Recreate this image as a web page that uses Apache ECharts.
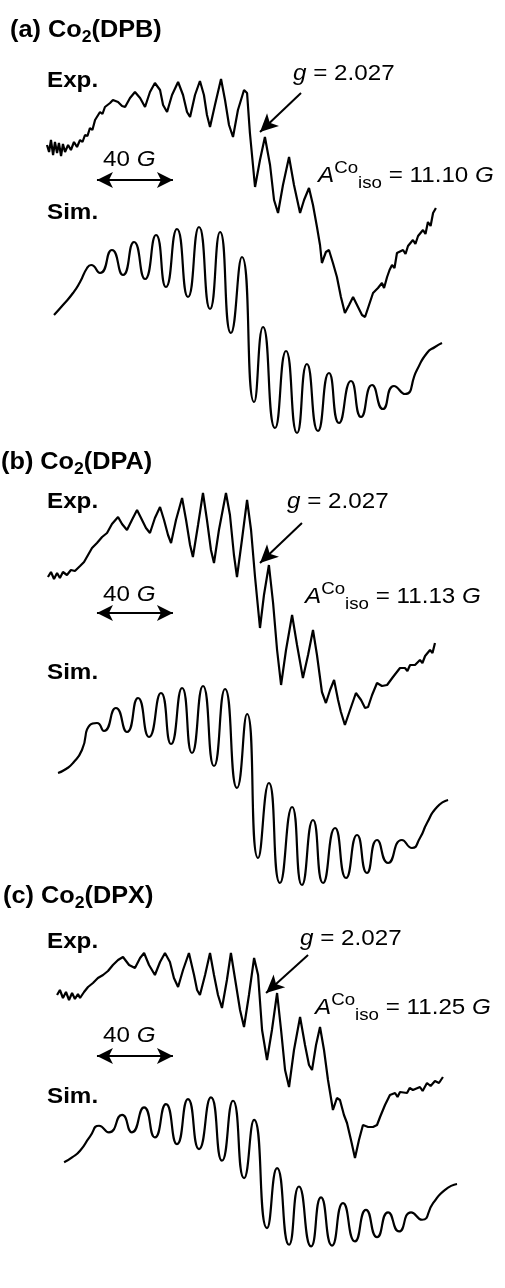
<!DOCTYPE html>
<html>
<head>
<meta charset="utf-8">
<script src="https://cdn.jsdelivr.net/npm/echarts@6/dist/echarts.min.js"></script>
<style>html,body{margin:0;background:#fff}#chart{width:505px;height:1288px}</style>
</head>
<body>
<div id="chart"></div>
<script>
"use strict"

// 数据：[磁场偏移 (G), 强度 (a.u.)]
const expA = [[2.1,27.5],[3.2,24],[4.2,30],[5.3,22.5],[6.3,29],[7.4,23.5],[8.4,28.5],[9.5,22],[10.5,28],[11.6,24],[13.2,27.5],[14.7,25],[16.3,29],[17.9,26.5],[19.5,30],[20.8,29],[22.1,32.5],[23.4,32],[24.7,36],[26,35],[27.4,40],[30,44],[31.3,43],[32.6,46.5],[35.3,48.5],[36.8,50],[39.5,49],[41.6,47],[43.2,46.5],[45.8,51],[48.4,54],[51.1,51],[53.7,46.5],[56.3,54],[58.9,58.5],[61.6,55],[63.2,47.5],[65.3,44],[67.9,52.5],[71.1,59],[73.7,52.5],[75.8,44],[77.4,41.5],[80,52.5],[82.6,59.5],[84.7,52.5],[86.3,42.5],[87.9,36.5],[90.5,47.5],[93.7,60.5],[95.8,50],[97.9,37.5],[100,31.5],[102.6,45],[105.8,55],[107.4,53.5],[108.9,33.5],[111.6,6.5],[114.2,20],[116.8,31.5],[119.5,17.5],[121.6,0],[123.7,-6.5],[126.3,7.5],[129.5,21.5],[132.1,7.5],[135.3,-6.5],[137.4,0],[140,6],[142.1,-2.5],[144.2,-13.5],[145.8,-22.5],[146.8,-31.5],[148.9,-26],[150.5,-25],[152.6,-31.5],[154.7,-38.5],[156.8,-48.5],[158.9,-56.5],[161.1,-52.5],[163.2,-48.5],[165.8,-53.5],[167.9,-57.5],[169.5,-58.5],[171.6,-52.5],[173.7,-46.5],[176.3,-44],[178.4,-41.5],[179.5,-44],[181.1,-38.5],[182.4,-35],[183.7,-32.5],[185,-34],[186.3,-26.5],[189.5,-25],[190.8,-27],[192.1,-23],[194.7,-20],[196,-22],[197.4,-18],[200,-15],[201.3,-17],[202.6,-11],[204,-13],[205.3,-6.5],[206.8,-4]];
const simA = [[5.8,7.5],[10.5,12.5],[15.8,18.5],[19.5,24],[23.2,31],[25.3,32.5],[30,28.5],[36.3,40],[42.1,27.5],[47.9,44],[53.7,25.5],[59.5,47.5],[64.7,21.5],[70.5,50.5],[76.3,16.5],[82.1,51.5],[87.9,10.5],[93.2,49],[98.9,-1.5],[104.7,36.5],[111.1,-36],[115.8,1.5],[122.1,-49],[127.9,-10.5],[133.7,-51.5],[138.9,-17],[144.7,-50.5],[150.5,-21.5],[155.8,-46.5],[162.1,-25.5],[167.4,-43.5],[173.2,-27.5],[178.9,-39.5],[184.7,-28],[190.5,-32],[196.8,-20],[202.1,-11.5],[206.3,-8.5],[210,-6.5]];

const expB = [[2.6,16.5],[4.2,19],[5.8,15.5],[7.4,18.5],[8.9,16],[10.5,19],[12.6,17.5],[14.7,20],[16.8,19.5],[19.5,22],[21.6,24],[23.7,27.5],[25.8,31],[28.4,33.5],[31.1,36.5],[33.7,38.5],[36.3,43],[39.5,46.5],[41.6,43],[44.2,40],[46.8,45],[49.5,50],[51.6,46],[54.2,41],[56.3,38.5],[58.9,46],[61.6,51.5],[63.7,45],[65.8,37.5],[67.4,33.5],[70,45],[73.2,56],[75.3,45],[77.4,32.5],[78.9,26.5],[81.6,42.5],[84.2,58.5],[86.3,45],[88.4,30],[90,23.5],[92.6,40],[96.3,58.5],[98.4,47.5],[100.5,27.5],[102.1,16.5],[104.7,35],[107.4,55],[109.5,40],[111.6,16.5],[114.2,-9],[116.3,7.5],[118.9,22.5],[121.1,3.5],[123.2,-20],[125.3,-37.5],[127.9,-20],[131.1,-2.5],[133.7,-17.5],[136.8,-34],[139.5,-22.5],[142.1,-10],[144.2,-22.5],[146.8,-41],[148.9,-46.5],[151.1,-40],[153.2,-35],[155.3,-45],[156.8,-51],[158.9,-57.5],[161.6,-50],[164.7,-41.5],[167.4,-45],[169.5,-49],[171.1,-48.5],[173.2,-42.5],[175.8,-36.5],[178.4,-38],[181.1,-37.5],[184.2,-33.5],[187.9,-29],[190.5,-29],[191.8,-30.5],[193.2,-27.5],[195.8,-27.5],[198.4,-25],[199.7,-26.5],[201.1,-23],[203.7,-20],[205,-21.5],[206.3,-16.5]];
const simB = [[7.9,6],[12.1,8],[15.8,11],[20.5,17.5],[24.7,30],[28.4,31],[32.1,27],[38.4,38.5],[44.2,26.5],[50,43.5],[55.8,24],[62.1,46],[67.4,20.5],[73.2,48.5],[78.4,16],[84.2,49.5],[90,9.5],[95.8,48],[102.1,-1.5],[107.4,35.5],[113.2,-36.5],[118.9,1],[124.7,-49],[131.1,-11],[136.3,-50],[142.1,-17.5],[147.4,-49],[153.7,-21.5],[159.5,-46.5],[165.3,-25],[170.5,-44],[175.8,-27.5],[181.6,-39],[188.9,-27.5],[194.2,-31.5],[198.4,-26.5],[202.1,-19],[207.4,-11],[213.2,-7.5]];

const expC = [[7.4,30],[8.9,32.5],[10.5,28.5],[12.1,31.5],[13.7,27.5],[15.3,31],[16.8,28],[18.4,30.5],[19.5,28.5],[21.6,31.5],[23.7,34],[26.3,36],[28.9,38.5],[31.6,40],[34.2,42],[36.8,45],[39.5,47.5],[42.1,49],[45.3,45],[48.4,43.5],[51.1,48.5],[53.2,51],[55.8,45],[58.9,40],[61.6,46.5],[64.2,51],[66.8,46.5],[68.9,38.5],[71.1,34],[73.7,42.5],[76.8,51],[79.5,40],[81.1,32.5],[82.6,30],[85.3,40],[87.9,51],[90,40],[92.1,30],[94.2,23.5],[96.8,37.5],[98.9,51],[101.6,35],[103.7,22.5],[105.8,14],[108.4,30],[111.1,48.5],[113.2,40],[115.3,12.5],[117.9,-2.5],[120.5,12.5],[123.2,31],[125.3,12.5],[127.4,-7.5],[129.5,-16],[132.1,2.5],[135.3,19],[137.9,5],[140,-5],[141.6,-7.5],[143.7,5],[145.8,14],[147.9,2.5],[150,-12.5],[152.6,-27.5],[154.7,-21.5],[156.3,-22.5],[158.4,-30],[160,-34],[162.1,-42.5],[164.2,-51.5],[166.3,-42.5],[168.4,-35],[171.1,-36],[173.7,-36],[175.8,-35],[177.4,-31],[180,-25],[182.6,-20],[185.3,-19],[186.6,-21],[187.9,-18.5],[191.6,-19],[193,-16.5],[194.7,-17.5],[198.4,-16],[199.8,-18],[202.1,-14],[204,-15.5],[206.3,-13],[208.4,-14],[210.5,-11]];
const simC = [[11.1,5.5],[15.3,8.5],[19.5,12.5],[24.7,21],[29.5,27.5],[34.7,23.5],[41.6,34],[46.8,23.5],[53.2,38.5],[58.9,20.5],[64.7,40.5],[70.5,16.5],[76.3,43.5],[82.1,13.5],[88.4,44.5],[94.2,6.5],[100,42.5],[105.8,-4],[111.1,31],[117.9,-34],[123.2,2],[129.5,-44],[134.7,-9],[141.1,-45],[146.3,-15.5],[152.1,-44.5],[157.9,-19],[164.2,-42],[170,-23],[175.8,-39.5],[181.6,-24.5],[187.4,-36],[193.7,-24.5],[199.5,-29],[205.3,-19],[211.6,-11],[217.9,-7.5]];

// 文字
const titles = ["(a) Co{s|2}(DPB)", "(b) Co{s|2}(DPA)", "(c) Co{s|2}(DPX)"];
const aIso = ["11.10", "11.13", "11.25"];
const gValue = "2.027";
const scaleG = 40;

// 布局
const FONT = '"Liberation Sans", Arial, Helvetica, sans-serif';
const INK = "#000";
const expTop = [60, 470, 915];
const simTop = [190, 645, 1055];
const titleXY = [[10, 31], [1, 463], [3, 897]];
const expLabelY = [81, 502, 942];
const simLabelY = [213, 673, 1097];
const scaleTextY = [160, 595, 1036];
const scaleBarI = [10, -1.5, -0.5];
const gTextXY = [[293, 74], [287, 502], [300, 939]];
const gArrow = [[135.8, 53.5, 114.2, 34], [136.3, 43.5, 114.2, 23.5], [139.5, 50, 117.4, 31]];
const aTextXY = [[318, 176], [305, 597], [315, 1008]];

const chart = echarts.init(document.getElementById("chart"));

let grids = [], xAxes = [], yAxes = [], series = [], graphic = [];

function addTrace(data, top, isSim, marks) {
    let i = grids.length;
    grids.push({ left: 43, width: 418, top: top, height: 280 });
    xAxes.push({ gridIndex: i, type: "value", min: 0, max: 220, show: false });
    yAxes.push({ gridIndex: i, type: "value", min: -70, max: 70, show: false });
    let s = {
        type: "line",
        xAxisIndex: i,
        yAxisIndex: i,
        data: data,
        showSymbol: false,
        smooth: isSim ? 0.6 : false,
        clip: false,
        silent: true,
        lineStyle: { color: INK, width: 2.2 }
    };
    if (marks) {
        s.markLine = {
            silent: true,
            animation: false,
            label: { show: false },
            lineStyle: { color: INK, width: 2, type: "solid" },
            data: marks
        };
    }
    series.push(s);
}

function text(x, y, str, size, bold, rich, lh) {
    return {
        type: "text",
        x: x,
        y: y,
        scaleX: 1.1,
        silent: true,
        style: {
            text: str,
            fontFamily: FONT,
            fontSize: size,
            fontWeight: bold ? "bold" : "normal",
            lineHeight: lh || size,
            fill: INK,
            align: "left",
            verticalAlign: "middle",
            rich: rich || {}
        }
    };
}

const expTraces = [expA, expB, expC];
const simTraces = [simA, simB, simC];

for (let k = 0; k < 3; k++) {
    let ga = gArrow[k];
    let marks = [
        [
            { coord: [28.4, scaleBarI[k]], symbol: "arrow", symbolSize: [12, 16] },
            { coord: [28.4 + scaleG, scaleBarI[k]], symbol: "arrow", symbolSize: [12, 16] }
        ],
        [
            { coord: [ga[0], ga[1]], symbol: "none" },
            { coord: [ga[2], ga[3]], symbol: "arrow", symbolSize: [13, 18] }
        ]
    ];
    addTrace(expTraces[k], expTop[k], false, marks);
    addTrace(simTraces[k], simTop[k], true, null);

    graphic.push(text(titleXY[k][0], titleXY[k][1], titles[k], 23, true, {
        s: { fontFamily: FONT, fontSize: 16, fontWeight: "bold", lineHeight: 14, verticalAlign: "bottom" }
    }, 30));
    graphic.push(text(47, expLabelY[k], "Exp.", 22, true));
    graphic.push(text(47, simLabelY[k], "Sim.", 22, true));
    graphic.push(text(103, scaleTextY[k], scaleG + " {i|G}", 22, false, {
        i: { fontFamily: FONT, fontSize: 22, fontStyle: "italic" }
    }));
    graphic.push(text(gTextXY[k][0], gTextXY[k][1], "{i|g} = " + gValue, 22, false, {
        i: { fontFamily: FONT, fontSize: 22, fontStyle: "italic" }
    }));
    graphic.push(text(aTextXY[k][0], aTextXY[k][1], "{i|A}{sup|Co}{sub|iso} = " + aIso[k] + " {i|G}", 22, false, {
        i: { fontFamily: FONT, fontSize: 22, fontStyle: "italic", lineHeight: 32 },
        sup: { fontFamily: FONT, fontSize: 17, lineHeight: 17, verticalAlign: "top" },
        sub: { fontFamily: FONT, fontSize: 17, lineHeight: 17, verticalAlign: "bottom" }
    }, 32));
}

chart.setOption({
    animation: false,
    backgroundColor: "#fff",
    grid: grids,
    xAxis: xAxes,
    yAxis: yAxes,
    series: series,
    graphic: graphic
});
</script>
</body>
</html>
